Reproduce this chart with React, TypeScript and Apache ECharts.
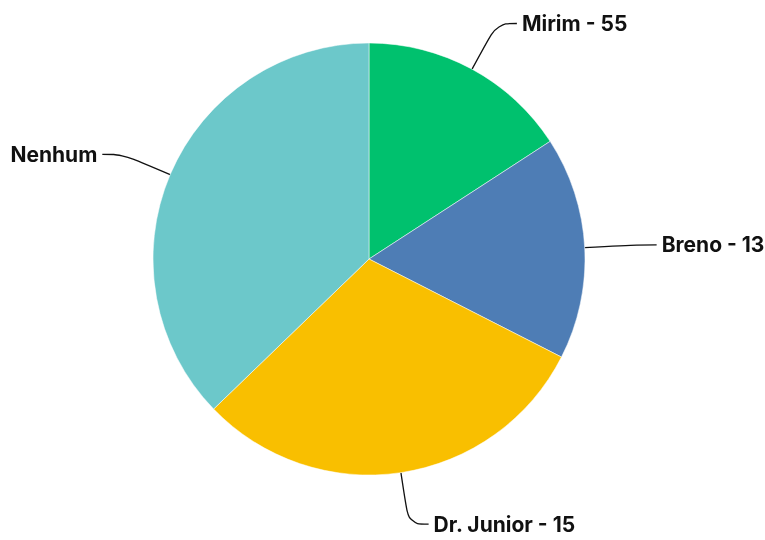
import React, { useEffect, useRef } from "react";
import * as echarts from "echarts";

const categories = ["Mirim", "Breno", "Dr. Junior", "Nenhum"];
const sliceValues = [57, 60, 109, 134];
const labelCounts: (number | null)[] = [55, 13, 15, null];
const colors = ["#00C16E", "#4E7DB5", "#F9BF00", "#6CC8CA"];

export default function App() {
  const ref = useRef<HTMLDivElement>(null);
  useEffect(() => {
    if (!ref.current) return;
    const chart = echarts.init(ref.current, undefined, { renderer: "svg" });
    const data = categories.map((name, i) => ({
      name,
      value: sliceValues[i],
      itemStyle: { color: colors[i] },
    }));
    chart.setOption({
      animation: false,
      series: [
        {
          type: "pie",
          center: [369, 259],
          radius: 216,
          startAngle: 90,
          clockwise: true,
          data,
          itemStyle: { borderColor: "#ffffff", borderWidth: 0.5 },
          label: {
            show: true,
            color: "#111",
            fontFamily: "Inter",
            fontWeight: "bold",
            fontSize: 21,
            overflow: "none",
            formatter: (p: any) => {
              const c = labelCounts[p.dataIndex];
              return c == null ? p.name : `${p.name} - ${c}`;
            },
          },
          labelLine: {
            show: true,
            length: 52,
            length2: 20,
            smooth: 0.4,
            lineStyle: { color: "#111", width: 1.3 },
          },
        },
      ],
    });
    return () => chart.dispose();
  }, []);
  return (
    <div
      ref={ref}
      style={{ position: "fixed", left: 0, top: 0, width: 765, height: 540 }}
    />
  );
}
